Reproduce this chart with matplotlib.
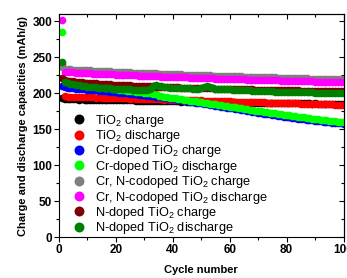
import numpy as np
import matplotlib
matplotlib.use("Agg")
import matplotlib.pyplot as plt
from matplotlib.ticker import MultipleLocator

plt.rcParams['font.family'] = ['Liberation Sans', 'DejaVu Sans']
plt.rcParams['mathtext.default'] = 'regular'

cycles = list(range(1, 101))

tio2_charge = [
    193.0, 191.8, 191.6, 191.7, 191.4, 191.5, 191.2, 191.3, 191.1, 191.2,
    190.9, 191.0, 190.8, 190.9, 190.6, 190.7, 190.5, 190.6, 190.3, 190.4,
    190.2, 190.3, 190.0, 190.1, 189.9, 190.0, 189.7, 189.8, 189.6, 189.7,
    189.4, 189.5, 189.3, 189.4, 189.1, 189.2, 189.0, 189.1, 188.8, 188.9,
    188.7, 188.8, 188.5, 188.6, 188.4, 188.5, 188.2, 188.3, 188.1, 188.2,
    187.9, 188.0, 187.8, 187.9, 187.6, 187.7, 187.5, 187.6, 187.3, 187.4,
    187.2, 187.3, 187.0, 187.1, 186.9, 187.0, 186.8, 186.9, 186.7, 186.8,
    186.6, 186.7, 186.5, 186.6, 186.4, 186.5, 186.3, 186.4, 186.2, 186.3,
    186.1, 186.2, 186.0, 186.1, 185.9, 186.0, 185.8, 185.9, 185.7, 185.8,
    185.6, 185.7, 185.5, 185.6, 185.4, 185.5, 185.3, 185.4, 185.2, 185.3]

tio2_discharge = [
    240.0, 195.5, 195.2, 195.4, 195.0, 195.1, 194.7, 194.9, 194.5, 194.6,
    194.3, 194.4, 194.0, 194.2, 193.8, 193.9, 193.6, 193.7, 193.3, 193.5,
    193.1, 193.2, 192.8, 193.0, 192.6, 192.7, 192.4, 192.5, 192.1, 192.3,
    191.9, 192.0, 191.6, 191.8, 191.4, 191.5, 191.2, 191.3, 190.9, 191.1,
    190.7, 190.8, 190.5, 190.6, 190.2, 190.4, 190.0, 190.1, 189.8, 189.9,
    189.5, 189.7, 189.3, 189.4, 189.1, 189.2, 188.8, 189.0, 188.6, 188.7,
    188.4, 188.5, 188.1, 188.3, 187.9, 188.0, 187.7, 187.8, 187.4, 187.6,
    187.2, 187.3, 187.0, 187.1, 186.7, 186.9, 186.5, 186.6, 186.3, 186.4,
    186.0, 186.2, 185.8, 185.9, 185.6, 185.7, 185.3, 185.5, 185.1, 185.2,
    184.9, 185.0, 184.6, 184.8, 184.4, 184.5, 184.2, 184.3, 184.0, 184.1]

cr_charge = [
    210.0, 208.0, 207.6, 207.3, 206.9, 206.5, 206.1, 205.8, 205.4, 205.0,
    204.7, 204.3, 203.9, 203.5, 203.2, 202.8, 202.4, 202.0, 201.6, 201.2,
    200.8, 200.4, 200.0, 199.6, 199.2, 198.8, 198.3, 197.9, 197.5, 197.0,
    196.6, 196.1, 195.6, 195.1, 194.6, 194.1, 193.6, 193.0, 192.5, 191.9,
    191.3, 190.7, 190.1, 189.5, 188.9, 188.3, 187.7, 187.1, 186.5, 185.8,
    185.2, 184.6, 183.9, 183.3, 182.7, 182.0, 181.4, 180.7, 180.1, 179.4,
    178.8, 178.1, 177.5, 176.8, 176.2, 175.5, 174.9, 174.3, 173.6, 173.0,
    172.4, 171.8, 171.1, 170.5, 169.9, 169.3, 168.8, 168.2, 167.6, 167.0,
    166.5, 165.9, 165.4, 164.8, 164.3, 163.8, 163.3, 162.8, 162.3, 161.8,
    161.3, 160.9, 160.4, 160.0, 159.6, 159.2, 158.8, 158.4, 158.1, 157.7]

cr_discharge = [
    285.0, 217.0, 215.8, 214.9, 214.1, 213.4, 212.7, 212.0, 211.4, 210.8,
    210.2, 209.7, 209.1, 208.6, 208.1, 207.6, 207.1, 206.6, 206.1, 205.6,
    205.1, 204.6, 204.1, 203.6, 203.1, 202.6, 202.1, 201.6, 201.1, 200.6,
    200.1, 199.7, 199.3, 198.9, 196.5, 195.8, 195.2, 194.6, 194.0, 193.4,
    192.8, 192.2, 191.6, 191.0, 190.4, 189.8, 189.2, 188.6, 188.0, 187.4,
    186.8, 186.2, 185.6, 185.0, 184.4, 183.8, 183.2, 182.6, 182.0, 181.4,
    180.8, 180.2, 179.6, 179.0, 178.4, 177.8, 177.2, 176.6, 176.0, 175.4,
    174.8, 174.2, 173.7, 173.1, 172.5, 172.0, 171.4, 170.8, 170.3, 169.7,
    169.2, 168.6, 168.1, 167.5, 167.0, 166.5, 165.9, 165.4, 164.9, 164.4,
    163.9, 163.4, 162.9, 162.4, 162.0, 161.5, 161.0, 160.6, 160.2, 159.8]

crn_charge = [
    236.0, 233.5, 233.2, 233.0, 232.8, 232.5, 232.3, 232.1, 231.9, 231.7,
    231.5, 231.3, 231.1, 230.9, 230.7, 230.5, 230.3, 230.2, 230.0, 229.8,
    229.6, 229.4, 229.3, 229.1, 228.9, 228.7, 228.6, 228.4, 228.2, 228.1,
    227.9, 227.8, 227.6, 227.4, 227.3, 227.1, 227.0, 226.8, 226.7, 226.5,
    226.4, 226.2, 226.1, 225.9, 225.8, 225.6, 225.5, 225.4, 225.2, 225.1,
    224.9, 224.8, 224.7, 224.5, 224.4, 224.3, 224.1, 224.0, 223.9, 223.7,
    223.6, 223.5, 223.4, 223.2, 223.1, 223.0, 222.9, 222.7, 222.6, 222.5,
    222.4, 222.3, 222.1, 222.0, 221.9, 221.8, 221.7, 221.6, 221.4, 221.3,
    221.2, 221.1, 221.0, 220.9, 220.8, 220.7, 220.6, 220.4, 220.3, 220.2,
    220.1, 220.0, 219.9, 219.8, 219.7, 219.6, 219.5, 219.4, 219.3, 219.2]

crn_discharge = [
    301.0, 229.5, 229.2, 229.0, 228.8, 228.6, 228.3, 228.1, 227.9, 227.7,
    227.5, 227.3, 227.1, 226.9, 226.7, 226.5, 226.3, 226.2, 226.0, 225.8,
    225.6, 225.4, 225.3, 225.1, 224.9, 224.7, 224.6, 224.4, 224.2, 224.1,
    223.9, 223.8, 223.6, 223.4, 223.3, 223.1, 223.0, 222.8, 222.7, 222.5,
    222.4, 222.2, 222.1, 221.9, 221.8, 221.6, 221.5, 221.4, 221.2, 221.1,
    220.9, 220.8, 220.7, 220.5, 220.4, 220.3, 220.1, 220.0, 219.9, 219.7,
    219.6, 219.5, 219.4, 219.2, 219.1, 219.0, 218.9, 218.7, 218.6, 218.5,
    218.4, 218.3, 218.1, 218.0, 217.9, 217.8, 217.7, 217.6, 217.4, 217.3,
    217.2, 217.1, 217.0, 216.9, 216.8, 216.7, 216.6, 216.4, 216.3, 216.2,
    216.1, 216.0, 215.9, 215.8, 215.7, 215.6, 215.5, 215.4, 215.3, 215.2]

n_charge = [
    221.0, 218.0, 217.4, 216.9, 216.4, 216.0, 215.6, 215.2, 214.8, 214.5,
    214.2, 213.9, 213.6, 213.3, 213.0, 212.8, 212.5, 212.3, 212.0, 211.8,
    211.6, 211.4, 211.2, 211.0, 210.8, 210.6, 210.4, 210.2, 210.0, 209.9,
    209.7, 209.5, 209.4, 209.2, 209.0, 208.9, 208.7, 208.6, 208.4, 208.3,
    208.1, 208.0, 207.9, 207.7, 207.6, 207.5, 207.4, 207.2, 207.1, 207.0,
    206.9, 206.8, 206.7, 206.6, 206.5, 206.4, 206.3, 206.2, 206.1, 206.0,
    205.9, 205.8, 205.7, 205.6, 205.5, 205.4, 205.3, 205.2, 205.1, 205.0,
    204.9, 204.8, 204.7, 204.6, 204.5, 204.5, 204.4, 204.3, 204.2, 204.1,
    204.0, 204.0, 203.9, 203.8, 203.7, 203.6, 203.6, 203.5, 203.4, 203.3,
    203.3, 203.2, 203.1, 203.0, 203.0, 202.9, 202.8, 202.7, 202.7, 202.6]

n_discharge = [
    243.0, 216.0, 214.5, 213.3, 212.3, 211.5, 210.8, 210.2, 209.7, 209.2,
    208.8, 208.4, 208.0, 207.7, 207.4, 207.1, 206.9, 206.6, 206.4, 206.2,
    206.0, 205.8, 205.6, 205.4, 205.3, 205.1, 205.0, 204.8, 204.7, 204.6,
    204.5, 206.5, 209.5, 211.0, 210.5, 209.8, 208.9, 208.3, 207.9, 207.6,
    207.4, 207.2, 207.0, 206.9, 206.7, 206.6, 206.5, 206.4, 206.3, 207.0,
    208.8, 209.5, 208.2, 206.9, 206.4, 206.1, 205.9, 205.7, 205.5, 205.3,
    205.1, 204.9, 204.7, 204.5, 204.3, 204.1, 203.9, 203.7, 203.5, 203.3,
    203.1, 202.9, 202.8, 202.6, 202.5, 202.3, 202.2, 202.0, 201.9, 201.8,
    201.7, 201.6, 201.5, 201.4, 201.3, 201.2, 201.1, 201.0, 201.0, 200.9,
    200.8, 200.8, 200.7, 200.7, 200.6, 200.6, 200.5, 200.5, 200.4, 200.4]

labels = ['TiO$_2$ charge', 'TiO$_2$ discharge',
          'Cr-doped TiO$_2$ charge', 'Cr-doped TiO$_2$ discharge',
          'Cr, N-codoped TiO$_2$ charge', 'Cr, N-codoped TiO$_2$ discharge',
          'N-doped TiO$_2$ charge', 'N-doped TiO$_2$ discharge']
series = [tio2_charge, tio2_discharge, cr_charge, cr_discharge,
          crn_charge, crn_discharge, n_charge, n_discharge]
colors = ['#000000', '#ff0000', '#0000ff', '#00ff00',
          '#808080', '#ff00ff', '#800000', '#008000']

fig = plt.figure(figsize=(3.47, 2.78), dpi=100)
ax = fig.add_axes([0.170, 0.146, 0.820, 0.804])

for vals, c, lab in zip(series, colors, labels):
    ax.plot(cycles, vals, 'o', ms=5.5, mfc=c, mec=c, mew=0, label=lab)

ax.set_xlim(0, 100)
ax.set_ylim(0, 310)
ax.xaxis.set_major_locator(MultipleLocator(20))
ax.xaxis.set_minor_locator(MultipleLocator(10))
ax.yaxis.set_major_locator(MultipleLocator(50))
ax.yaxis.set_minor_locator(MultipleLocator(25))
ax.tick_params(which='both', direction='out', top=False, right=False, width=0.8)
ax.tick_params(which='major', length=3.5, labelsize=8.5, pad=1.5)
ax.tick_params(which='minor', length=2)
for lab in ax.get_xticklabels() + ax.get_yticklabels():
    lab.set_fontweight('bold')

# inward ticks on top and right, like Origin
axt = ax.secondary_xaxis('top')
axt.xaxis.set_major_locator(MultipleLocator(20))
axt.xaxis.set_minor_locator(MultipleLocator(10))
axt.tick_params(which='both', direction='in', labeltop=False, width=0.8)
axt.tick_params(which='major', length=3.5)
axt.tick_params(which='minor', length=2)
axr = ax.secondary_yaxis('right')
axr.yaxis.set_major_locator(MultipleLocator(50))
axr.yaxis.set_minor_locator(MultipleLocator(25))
axr.tick_params(which='both', direction='in', labelright=False, width=0.8)
axr.tick_params(which='major', length=3.5)
axr.tick_params(which='minor', length=2)

ax.set_xlabel('Cycle number', fontsize=8, fontweight='bold', labelpad=6)
ax.set_ylabel('Charge and discharge capacities (mAh/g)', fontsize=8,
              fontweight='bold', labelpad=3)

ax.legend(loc='lower left', bbox_to_anchor=(0.015, -0.035), frameon=False,
          fontsize=9.2, handletextpad=0.75, labelspacing=-0.05,
          handlelength=1.0, borderpad=0.2, markerscale=1.3)

fig.savefig('out.png', dpi=100)
